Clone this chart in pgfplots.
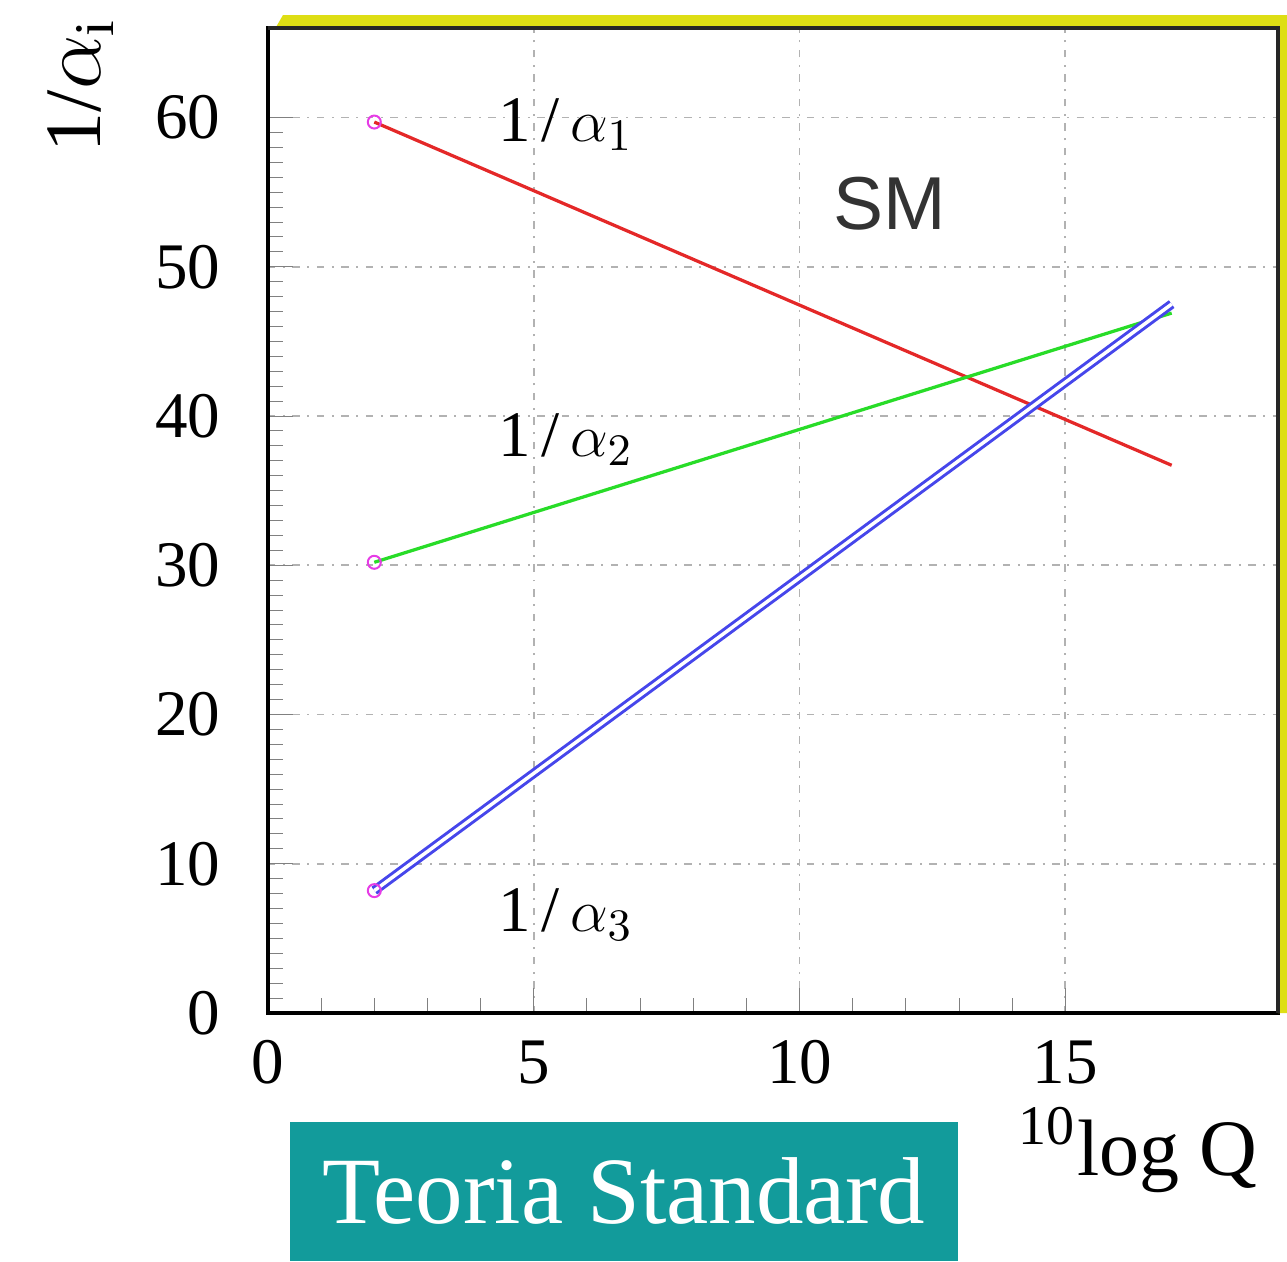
\documentclass[border=0pt]{standalone}
\usepackage{fontspec}
\setmainfont{Liberation Serif}
\newfontfamily\sansf{Liberation Sans}
\usepackage{pgfplots}
\pgfplotsset{compat=1.18}
\definecolor{lred}{RGB}{228,40,40}
\definecolor{lgreen}{RGB}{40,220,40}
\definecolor{lblue}{RGB}{70,70,235}
\definecolor{lmag}{RGB}{230,60,230}
\definecolor{frameyel}{RGB}{222,222,20}
\definecolor{tealbox}{RGB}{18,155,155}

\begin{document}
\begin{tikzpicture}
\useasboundingbox (-53.6pt,-49.6pt) rectangle (203.8pt,202.6pt);
\begin{axis}[
    at={(0,0)}, anchor=south west,
    scale only axis,
    width=202pt, height=197pt,
    xmin=0, xmax=19,
    ymin=0, ymax=66,
    xtick={0,5,10,15},
    ytick={0,10,20,30,40,50,60},
    minor x tick num=4,
    minor y tick num=9,
    xtick pos=bottom, ytick pos=left,
    major tick length=5pt, minor tick length=3pt,
    grid=major,
    grid style={gray!60, line width=0.35pt, dash pattern=on 1.5pt off 1.5pt on 0.4pt off 1.5pt},
    tick label style={font=\fontsize{13}{15}\selectfont},
    /pgf/number format/assume math mode=true,
    xticklabel style={yshift=-2pt},
    yticklabel style={xshift=-6pt},
    axis line style={line width=0.8pt},
    clip=false,
]

% coupling lines
\addplot[lred, line width=0.65pt] coordinates {(2,59.7)(17,36.7)};
\addplot[lgreen, line width=0.65pt] coordinates {(2,30.2)(17,46.9)};
\addplot[draw=lblue, double=white, double distance=0.7pt, line width=0.6pt] coordinates {(2,8.2)(17,47.5)};
\addplot[only marks, mark=o, mark size=1.3pt, lmag] coordinates {(2,59.7)(2,30.2)(2,8.2)};

% labels
\node[font=\fontsize{13}{15}\selectfont] at (axis cs:5.6,59.5) {1\,/\,$\alpha_{1}$};
\node[font=\fontsize{13}{15}\selectfont] at (axis cs:5.6,38.4) {1\,/\,$\alpha_{2}$};
\node[font=\fontsize{13}{15}\selectfont] at (axis cs:5.6,6.6) {1\,/\,$\alpha_{3}$};
\node[font=\sansf\fontsize{15}{18}\selectfont, text=black!80] at (axis cs:11.7,54.2) {SM};

% frame (yellow 3d edge on top and right)
\fill[frameyel] ([xshift=1.5pt]rel axis cs:0,1) -- ([xshift=3pt,yshift=2.6pt]rel axis cs:0,1)
  -- ([xshift=2pt,yshift=2.6pt]rel axis cs:1,1) -- ([xshift=2pt]rel axis cs:1,0)
  -- (rel axis cs:1,0) -- (rel axis cs:1,1) -- cycle;
\draw[black!85, line width=0.9pt] (rel axis cs:0,1) -- (rel axis cs:1,1) -- (rel axis cs:1,0);

% axis titles
\node[rotate=90, font=\fontsize{16}{19}\selectfont] at (rel axis cs:-0.186,0.942) {1/$\alpha_{\mathrm{i}}$};
\node[anchor=east, font=\fontsize{16}{19}\selectfont] at (rel axis cs:0.997,-0.139) {\textsuperscript{10}log Q};
\node[fill=tealbox, text=white, minimum width=133.6pt, minimum height=27.8pt, inner sep=0pt,
  font=\fontsize{19}{22}\selectfont] at (rel axis cs:0.352,-0.181) {Teoria Standard};
\end{axis}
\end{tikzpicture}
\end{document}
